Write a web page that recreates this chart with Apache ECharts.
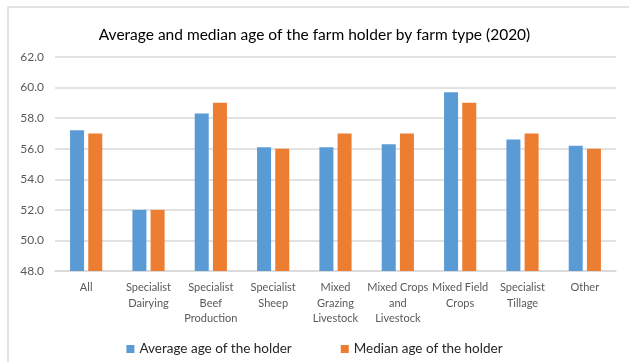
<!DOCTYPE html>
<html>
<head>
<meta charset="utf-8">
<script src="https://cdn.jsdelivr.net/npm/echarts@6/dist/echarts.min.js"></script>
<style>
  html, body { margin: 0; padding: 0; background: #fff; }
  #chart { width: 629px; height: 362px; }
</style>
</head>
<body>
<div id="chart"></div>
<script>
// data
var categories = ['All', 'Specialist\nDairying', 'Specialist\nBeef\nProduction', 'Specialist\nSheep',
  'Mixed\nGrazing\nLivestock', 'Mixed Crops\nand\nLivestock', 'Mixed Field\nCrops', 'Specialist\nTillage', 'Other'];
var averageAge = [57.2, 52.0, 58.3, 56.1, 56.1, 56.3, 59.7, 56.6, 56.2];
var medianAge = [57.0, 52.0, 59.0, 56.0, 57.0, 57.0, 59.0, 57.0, 56.0];

var myChart = echarts.init(document.getElementById('chart'));
var font = 'Lato';

var option = {
  animation: false,
  color: ['#5B9BD5', '#ED7D31'],
  title: {
    text: 'Average and median age of the farm holder by farm type (2020)',
    left: 'center',
    top: 22,
    textStyle: { fontFamily: font, fontSize: 15.5, fontWeight: 'normal', color: '#000' }
  },
  graphic: [{
    type: 'rect',
    shape: { x: 8, y: 7, width: 640, height: 400 },
    style: { fill: 'none', stroke: '#d9d9d9', lineWidth: 1.5 },
    silent: true
  }],
  legend: {
    top: 337,
    left: 'center',
    itemWidth: 8,
    itemHeight: 8,
    itemGap: 49,
    icon: 'rect',
    textStyle: { fontFamily: font, fontSize: 13.5, color: '#262626' },
    data: ['Average age of the holder', 'Median age of the holder']
  },
  grid: { left: 55, right: 13, top: 57, bottom: 91 },
  xAxis: {
    type: 'category',
    data: categories,
    axisTick: { show: false },
    axisLine: { lineStyle: { color: '#d9d9d9', width: 1.5 } },
    axisLabel: { fontFamily: font, fontSize: 11, color: '#595959', lineHeight: 15.5, margin: 9, interval: 0 }
  },
  yAxis: {
    type: 'value',
    min: 48,
    max: 62,
    interval: 2,
    axisLine: { show: false },
    axisTick: { show: false },
    splitLine: { lineStyle: { color: '#d9d9d9', width: 1.5 } },
    axisLabel: {
      fontFamily: font, fontSize: 12, color: '#595959', margin: 11,
      formatter: function (v) { return v.toFixed(1); }
    }
  },
  series: [{
    name: 'Average age of the holder',
    type: 'bar',
    barWidth: 14,
    barGap: '30%',
    data: averageAge
  }, {
    name: 'Median age of the holder',
    type: 'bar',
    barWidth: 14,
    barGap: '30%',
    data: medianAge
  }]
};

myChart.setOption(option);
</script>
</body>
</html>
